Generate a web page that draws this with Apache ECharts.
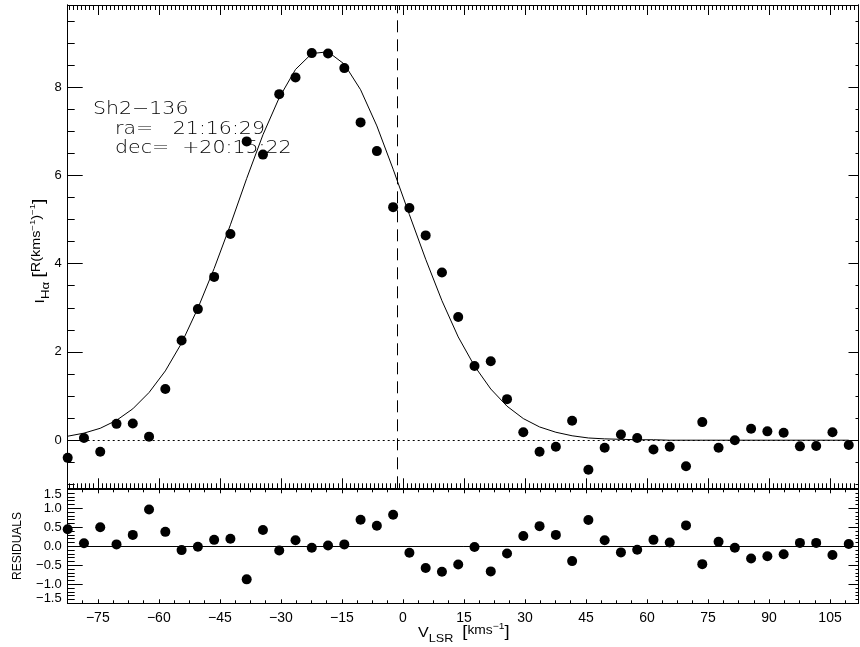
<!DOCTYPE html>
<html>
<head>
<meta charset="utf-8">
<script src="https://cdn.jsdelivr.net/npm/echarts@6/dist/echarts.min.js"></script>
<style>
  html, body { margin: 0; padding: 0; background: #fff; }
  #chart { width: 860px; height: 647px; }
</style>
</head>
<body>
<div id="chart"></div>
<script>
// H-alpha spectrum of Sh2-136: channel velocities (km/s, LSR)
const velocity = [
  -82.4, -78.4, -74.4, -70.4, -66.4, -62.4, -58.4, -54.4, -50.4, -46.4,
  -42.4, -38.4, -34.4, -30.4, -26.4, -22.4, -18.4, -14.4, -10.4, -6.4,
  -2.4, 1.6, 5.6, 9.6, 13.6, 17.6, 21.6, 25.6, 29.6, 33.6,
  37.6, 41.6, 45.6, 49.6, 53.6, 57.6, 61.6, 65.6, 69.6, 73.6,
  77.6, 81.6, 85.6, 89.6, 93.6, 97.6, 101.6, 105.6, 109.6
];
// measured intensity, R/(km/s)
const intensity = [
  -0.40, 0.05, -0.26, 0.37, 0.38, 0.08, 1.16, 2.26, 2.97, 3.70,
  4.67, 6.77, 6.47, 7.84, 8.22, 8.77, 8.76, 8.43, 7.20, 6.55,
  5.28, 5.26, 4.64, 3.80, 2.79, 1.68, 1.79, 0.93, 0.18, -0.26,
  -0.15, 0.44, -0.67, -0.17, 0.13, 0.05, -0.21, -0.15, -0.59, 0.41,
  -0.17, 0.00, 0.26, 0.20, 0.17, -0.14, -0.13, 0.18, -0.11
];
// fitted profile evaluated at each channel
const modelFit = [
  0.09, 0.16, 0.27, 0.45, 0.71, 1.08, 1.57, 2.20, 2.99, 3.89,
  4.88, 5.93, 6.92, 7.76, 8.40, 8.76, 8.80, 8.52, 7.94, 7.12,
  6.14, 5.11, 4.10, 3.16, 2.34, 1.68, 1.16, 0.77, 0.49, 0.30,
  0.18, 0.10, 0.05, 0.03, 0.02, 0.01, 0.01, 0.00, 0.00, 0.00,
  0.00, 0.00, 0.00, 0.00, 0.00, 0.00, 0.00, 0.00, 0.00
];
// fit residuals per channel
const residuals = [
  0.45, 0.08, 0.50, 0.05, 0.30, 0.97, 0.38, -0.10, -0.01, 0.17,
  0.20, -0.87, 0.43, -0.11, 0.16, -0.04, 0.02, 0.05, 0.70, 0.54,
  0.83, -0.17, -0.57, -0.67, -0.48, -0.02, -0.66, -0.19, 0.27, 0.53,
  0.30, -0.39, 0.69, 0.16, -0.16, -0.09, 0.17, 0.10, 0.55, -0.47,
  0.12, -0.04, -0.32, -0.26, -0.21, 0.09, 0.09, -0.23, 0.06
];
const refVelocity = -1.35;

// axis extents and labelled ticks
const velocityRange = [-82.4, 112.0];
const intensityRange = [-1.09, 9.86];
const residualRange = [-1.5, 1.5];
const velocityTicks = [-75, -60, -45, -30, -15, 0, 15, 30, 45, 60, 75, 90, 105];
const intensityTicks = [0, 2, 4, 6, 8];
const residualTicks = [-1.5, -1.0, -0.5, 0.0, 0.5, 1.0, 1.5];

const ink = '#000';
const fontFamily = 'Liberation Sans, Arial, sans-serif';

// minor tick positions: every `step` inside range, skipping multiples of `major`
function minorSteps(range, step, major) {
  const out = [];
  for (let k = Math.ceil(range[0] / step - 1e-9); k * step <= range[1] + 1e-9; k++) {
    const v = +(k * step).toFixed(4);
    const r = v / major;
    if (Math.abs(r - Math.round(r)) > 1e-6) out.push(v);
  }
  return out;
}

const minus = s => String(s).replace('-', '\u2212');

function tickAxis(gridIndex, position, range, ticks, len, label) {
  const ax = {
    type: 'value', gridIndex, position, min: range[0], max: range[1],
    axisLine: { show: true, onZero: false, lineStyle: { color: ink, width: 1 } },
    axisTick: { show: true, inside: true, length: len, customValues: ticks,
                lineStyle: { color: ink, width: 1 } },
    axisLabel: { show: false },
    splitLine: { show: false },
    minorTick: { show: false },
    minorSplitLine: { show: false },
    axisPointer: { show: false },
    silent: true
  };
  if (label) {
    ax.axisLabel = Object.assign({
      show: true, customValues: ticks, color: ink, fontFamily,
      showMinLabel: true, showMaxLabel: true, hideOverlap: false
    }, label);
  }
  return ax;
}

const xMinorTop = minorSteps(velocityRange, 1, 15);
const xMinorRes = minorSteps(velocityRange, 3.75, 15);
const yMinorTop = minorSteps(intensityRange, 0.5, 2);
const yMinorRes = minorSteps(residualRange, 0.1, 0.5);

const xLabelStyle = { fontSize: 14, margin: 8, formatter: v => minus(v) };

const xAxes = [
  tickAxis(0, 'bottom', velocityRange, velocityTicks, 10),
  tickAxis(0, 'bottom', velocityRange, xMinorTop, 5),
  tickAxis(0, 'top', velocityRange, velocityTicks, 10),
  tickAxis(0, 'top', velocityRange, xMinorTop, 5),
  tickAxis(1, 'bottom', velocityRange, velocityTicks, 4, xLabelStyle),
  tickAxis(1, 'bottom', velocityRange, xMinorRes, 3),
  tickAxis(1, 'top', velocityRange, velocityTicks, 4),
  tickAxis(1, 'top', velocityRange, xMinorRes, 3)
];

const yAxes = [
  tickAxis(0, 'left', intensityRange, intensityTicks, 15,
           { fontSize: 13, margin: 6, formatter: v => minus(v) }),
  tickAxis(0, 'left', intensityRange, yMinorTop, 7),
  tickAxis(0, 'right', intensityRange, intensityTicks, 10),
  tickAxis(0, 'right', intensityRange, yMinorTop, 3),
  tickAxis(1, 'left', residualRange, residualTicks, 15,
           { fontSize: 13, lineHeight: 10, margin: 6, formatter: v => minus(Number(v).toFixed(1)),
             verticalAlignMinLabel: 'bottom', verticalAlignMaxLabel: 'top' }),
  tickAxis(1, 'left', residualRange, yMinorRes, 7),
  tickAxis(1, 'right', residualRange, residualTicks, 10),
  tickAxis(1, 'right', residualRange, yMinorRes, 3)
];

const pairs = (xs, ys) => xs.map((x, i) => [x, ys[i]]);

const noSym = ['none', 'none'];
const dotStyle = { color: ink, opacity: 1 };

const option = {
  animation: false,
  backgroundColor: '#fff',
  grid: [
    { left: 67.7, top: 5, width: 790.8, height: 483.3, outerBoundsMode: 'none', containLabel: false },
    { left: 67.7, top: 489.3, width: 790.8, height: 114, outerBoundsMode: 'none', containLabel: false }
  ],
  xAxis: xAxes,
  yAxis: yAxes,
  series: [
    {
      name: 'fit', type: 'line', xAxisIndex: 0, yAxisIndex: 0,
      data: pairs(velocity, modelFit),
      showSymbol: false, symbol: 'none', smooth: false, clip: true,
      lineStyle: { color: ink, width: 1 },
      silent: true,
      markLine: {
        silent: true, symbol: noSym, label: { show: false },
        data: [
          { yAxis: 0, lineStyle: { color: ink, width: 1, type: [2, 3] } },
          { xAxis: refVelocity, lineStyle: { color: ink, width: 1, type: [12, 7] } }
        ]
      }
    },
    {
      name: 'intensity', type: 'scatter', xAxisIndex: 0, yAxisIndex: 0,
      data: pairs(velocity, intensity),
      symbol: 'circle', symbolSize: 10, clip: false,
      itemStyle: dotStyle, silent: true
    },
    {
      name: 'residuals', type: 'scatter', xAxisIndex: 4, yAxisIndex: 4,
      data: pairs(velocity, residuals),
      symbol: 'circle', symbolSize: 10, clip: false,
      itemStyle: dotStyle, silent: true,
      markLine: {
        silent: true, symbol: noSym, label: { show: false },
        data: [{ yAxis: 0, lineStyle: { color: ink, width: 1, type: 'solid' } }]
      }
    }
  ],
  graphic: [
    // source name and position
    { type: 'text', x: 93, y: 109, scaleX: 1.14, silent: true,
      style: { text: 'Sh2\u2212136', fill: '#000', fontSize: 18, fontWeight: 200, fontFamily: 'DejaVu Sans',
               align: 'left', verticalAlign: 'middle' } },
    { type: 'text', x: 115, y: 129, scaleX: 1.14, silent: true,
      style: { text: 'ra=   21:16:29', fill: '#000', fontSize: 18, fontWeight: 200, fontFamily: 'DejaVu Sans',
               align: 'left', verticalAlign: 'middle' } },
    { type: 'text', x: 115, y: 148, scaleX: 1.14, silent: true,
      style: { text: 'dec=  +20:15:22', fill: '#000', fontSize: 18, fontWeight: 200, fontFamily: 'DejaVu Sans',
               align: 'left', verticalAlign: 'middle' } },
    // intensity axis title
    { type: 'text', x: 40, y: 251, rotation: Math.PI / 2, scaleX: 1.2, silent: true,
      style: {
        text: '{b|I}{sub|H\u03b1}{b| }{br|[}{sup|R(kms}{sup2|\u22121}{sup|)}{sup2|\u22121}{br|]}',
        fill: ink, fontFamily, align: 'center', verticalAlign: 'middle',
        rich: {
          b: { fontSize: 13, lineHeight: 22, fontFamily, fill: ink },
          sub: { fontSize: 11, lineHeight: 11, verticalAlign: 'bottom', fontFamily, fill: ink },
          br: { fontSize: 16, lineHeight: 22, fontFamily, fill: ink },
          sup: { fontSize: 12, lineHeight: 12, verticalAlign: 'top', padding: [2, 0, 0, 0], fontFamily, fill: ink },
          sup2: { fontSize: 8, lineHeight: 8, verticalAlign: 'top', fontFamily, fill: ink }
        }
      } },
    // residual axis title
    { type: 'text', x: 18, y: 546, rotation: Math.PI / 2, silent: true,
      style: { text: 'RESIDUALS', fill: ink, fontSize: 12, fontFamily,
               align: 'center', verticalAlign: 'middle' } },
    // velocity axis title
    { type: 'text', x: 418, y: 633, scaleX: 1.15, silent: true,
      style: {
        text: '{b|V}{sub|LSR}{b|  }{br|[}{sup|kms}{sup2|\u22121}{br|]}',
        fill: ink, fontFamily, align: 'left', verticalAlign: 'middle',
        rich: {
          b: { fontSize: 14, lineHeight: 22, fontFamily, fill: ink },
          sub: { fontSize: 11, lineHeight: 11, verticalAlign: 'bottom', fontFamily, fill: ink },
          br: { fontSize: 16, lineHeight: 22, fontFamily, fill: ink },
          sup: { fontSize: 12, lineHeight: 12, verticalAlign: 'top', padding: [3, 0, 0, 0], fontFamily, fill: ink },
          sup2: { fontSize: 9, lineHeight: 9, verticalAlign: 'top', fontFamily, fill: ink }
        }
      } }
  ]
};

const chart = echarts.init(document.getElementById('chart'), null, { renderer: 'canvas' });
chart.setOption(option);
</script>
</body>
</html>
